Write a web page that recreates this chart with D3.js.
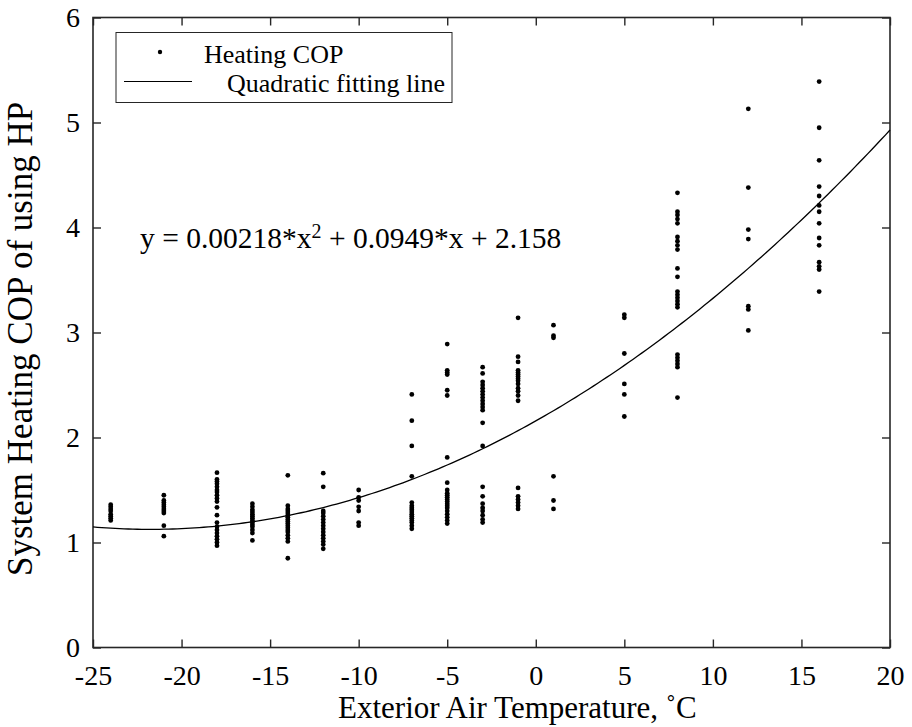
<!DOCTYPE html>
<html>
<head>
<meta charset="utf-8">
<script src="https://cdn.jsdelivr.net/npm/d3@7"></script>
<style>
  body { margin:0; background:#fff; }
  svg text { font-family: "Liberation Serif", "Times New Roman", serif; fill:#000; }
</style>
</head>
<body>
<svg id="chart" width="912" height="727"></svg>
<script>
// measured temperatures (x) and COP readings for each one
const temps = [-24, -21, -18, -16, -14, -12, -10, -7, -5, -3, -1, 1, 5, 8, 12, 16];
const cop = [
  [1.36, 1.34, 1.32, 1.30, 1.27, 1.25, 1.23, 1.21],
  [1.45, 1.40, 1.38, 1.36, 1.34, 1.32, 1.30, 1.28, 1.16, 1.06],
  [1.665, 1.60, 1.58, 1.56, 1.53, 1.50, 1.48, 1.45, 1.42, 1.39, 1.335, 1.26, 1.19, 1.15, 1.12, 1.09, 1.06, 1.03, 1.00, 0.97],
  [1.37, 1.34, 1.31, 1.29, 1.27, 1.25, 1.23, 1.21, 1.19, 1.17, 1.15, 1.12, 1.09, 1.02],
  [1.64, 1.35, 1.32, 1.30, 1.28, 1.26, 1.24, 1.22, 1.20, 1.18, 1.16, 1.14, 1.12, 1.10, 1.07, 1.04, 1.01, 0.85],
  [1.66, 1.53, 1.30, 1.28, 1.25, 1.22, 1.19, 1.16, 1.13, 1.10, 1.07, 1.04, 1.01, 0.98, 0.94],
  [1.50, 1.43, 1.40, 1.34, 1.30, 1.19, 1.16],
  [2.41, 2.16, 1.92, 1.63, 1.38, 1.35, 1.33, 1.31, 1.29, 1.27, 1.25, 1.23, 1.21, 1.19, 1.16, 1.13],
  [2.89, 2.64, 2.62, 2.60, 2.45, 2.40, 1.81, 1.57, 1.50, 1.47, 1.45, 1.43, 1.41, 1.39, 1.37, 1.35, 1.33, 1.30, 1.27, 1.24, 1.21, 1.18],
  [2.67, 2.61, 2.53, 2.50, 2.47, 2.44, 2.41, 2.38, 2.35, 2.32, 2.29, 2.26, 2.14, 1.92, 1.53, 1.44, 1.37, 1.33, 1.30, 1.26, 1.22, 1.19],
  [3.14, 2.77, 2.72, 2.64, 2.62, 2.60, 2.58, 2.56, 2.54, 2.51, 2.47, 2.44, 2.40, 2.35, 1.52, 1.44, 1.41, 1.38, 1.35, 1.32],
  [3.07, 2.97, 2.95, 1.63, 1.40, 1.32],
  [3.17, 3.14, 2.80, 2.51, 2.41, 2.20],
  [4.33, 4.15, 4.12, 4.08, 4.04, 3.91, 3.87, 3.83, 3.79, 3.61, 3.53, 3.39, 3.36, 3.33, 3.30, 3.27, 3.24, 2.79, 2.76, 2.73, 2.70, 2.67, 2.38],
  [5.13, 4.38, 3.98, 3.89, 3.25, 3.22, 3.02],
  [5.39, 4.95, 4.64, 4.39, 4.30, 4.21, 4.15, 4.04, 3.90, 3.83, 3.67, 3.63, 3.60, 3.39]
];
// quadratic fit coefficients  y = a*x^2 + b*x + c
const fitCoef = [0.00218, 0.0949, 2.158];
const xTicks = [-25, -20, -15, -10, -5, 0, 5, 10, 15, 20];
const yTicks = [0, 1, 2, 3, 4, 5, 6];

const svg = d3.select("#chart");
const L = 93, R = 890, T = 17.5, B = 647.5;
const axisColor = "#262626";
const serif = '"Liberation Serif", "Times New Roman", serif';

const x = d3.scaleLinear().domain([-25, 20]).range([L, R]);
const y = d3.scaleLinear().domain([0, 6]).range([B, T]);

// flatten columns into points
let points = [];
temps.forEach((t, i) => {
  cop[i].forEach((v) => points.push({t: t, v: v}));
});

// fitted curve, sampled along the x domain
const fitLine = d3.range(-25, 20.01, 0.25).map((t) => ({t: t, v: fitCoef[0]*t*t + fitCoef[1]*t + fitCoef[2]}));

// axes (ticks inside, box on all four sides)
const fmt = (d) => String(d);
function styleAxis(g){
  g.attr("font-family", null);
  g.select(".domain").remove();
  g.selectAll(".tick line").attr("stroke", axisColor).attr("stroke-width", 1.4);
  g.selectAll(".tick text").attr("fill", "#111")
    .style("font-family", serif).style("font-size", "28px");
}
svg.append("g").attr("transform", `translate(0,${B})`)
  .call(d3.axisBottom(x).tickValues(xTicks).tickFormat(fmt).tickSizeInner(-8).tickSizeOuter(0).tickPadding(18))
  .call(styleAxis);
svg.append("g").attr("transform", `translate(0,${T})`)
  .call(d3.axisTop(x).tickValues(xTicks).tickFormat("").tickSizeInner(-8).tickSizeOuter(0))
  .call(styleAxis);
svg.append("g").attr("transform", `translate(${L},0)`)
  .call(d3.axisLeft(y).tickValues(yTicks).tickFormat(fmt).tickSizeInner(-8).tickSizeOuter(0).tickPadding(13))
  .call(styleAxis);
svg.append("g").attr("transform", `translate(${R},0)`)
  .call(d3.axisRight(y).tickValues(yTicks).tickFormat("").tickSizeInner(-8).tickSizeOuter(0))
  .call(styleAxis);

svg.append("rect")
  .attr("x", L).attr("y", T).attr("width", R - L).attr("height", B - T)
  .attr("fill", "none").attr("stroke", axisColor).attr("stroke-width", 1.6);

// fit line
svg.append("path")
  .datum(fitLine)
  .attr("fill", "none").attr("stroke", "#000").attr("stroke-width", 1.3)
  .attr("d", d3.line().x((d) => x(d.t)).y((d) => y(d.v)));

// data points
svg.append("g").selectAll("circle")
  .data(points).enter().append("circle")
  .attr("cx", (d) => x(d.t)).attr("cy", (d) => y(d.v))
  .attr("r", 2.4).attr("fill", "#000");

// equation text
const eq = svg.append("text").attr("x", 140).attr("y", 248).style("font-size", "29.5px");
eq.append("tspan").text("y = 0.00218*x");
eq.append("tspan").attr("dy", -10).style("font-size", "20px").text("2");
eq.append("tspan").attr("dy", 10).text(" + 0.0949*x + 2.158");

// legend
const lg = svg.append("g");
lg.append("rect").attr("x", 116).attr("y", 32.5).attr("width", 336).attr("height", 70)
  .attr("fill", "#fff").attr("stroke", axisColor).attr("stroke-width", 1);
lg.append("circle").attr("cx", 160).attr("cy", 52).attr("r", 2.2).attr("fill", "#000");
lg.append("text").attr("x", 204).attr("y", 63).style("font-size", "26px").text("Heating COP");
lg.append("line").attr("x1", 124).attr("x2", 192).attr("y1", 81.5).attr("y2", 81.5)
  .attr("stroke", "#000").attr("stroke-width", 1.2);
lg.append("text").attr("x", 227).attr("y", 91.5).style("font-size", "26px").text("Quadratic fitting line");

// axis labels
svg.append("text").attr("x", 338).attr("y", 718).style("font-size", "31px")
  .text("Exterior Air Temperature, ˚C");
svg.append("text").attr("transform", "translate(32,576) rotate(-90)").style("font-size", "35px")
  .text("System Heating COP of using HP");
</script>
</body>
</html>
